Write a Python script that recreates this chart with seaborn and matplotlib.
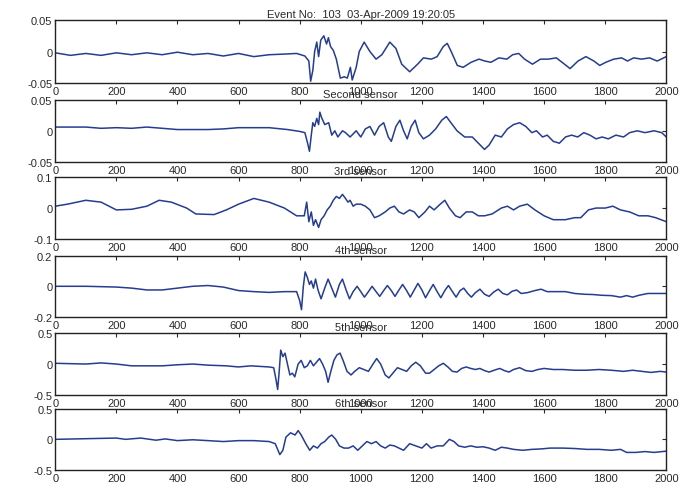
import matplotlib
matplotlib.use("Agg")
import matplotlib.pyplot as plt
import seaborn as sns
import pandas as pd

# ---------------- data ----------------
titles = ["Event No:  103  03-Apr-2009 19:20:05", "Second sensor", "3rd sensor",
          "4th sensor", "5th sensor", "6th sensor"]
ylims = [0.05, 0.05, 0.1, 0.2, 0.5, 0.5]
ytick_labels = [["-0.05", "0", "0.05"], ["-0.05", "0", "0.05"], ["-0.1", "0", "0.1"],
                ["-0.2", "0", "0.2"], ["-0.5", "0", "0.5"], ["-0.5", "0", "0.5"]]
xticks = list(range(0, 2001, 200))

s1_x = [0, 50, 100, 150, 200, 250, 300, 350, 400, 450, 500, 550, 600, 650, 700, 750, 790, 817, 830, 836,
        843, 849, 856, 862, 869, 879, 888, 894, 901, 910, 920, 933, 946, 956, 966, 972, 985, 995, 1011, 1030,
        1050, 1069, 1095, 1115, 1134, 1160, 1186, 1205, 1231, 1250, 1270, 1283, 1296, 1316, 1335, 1361, 1387,
        1406, 1426, 1452, 1478, 1497, 1517, 1536, 1562, 1588, 1614, 1640, 1672, 1685, 1711, 1737, 1763, 1782,
        1802, 1828, 1854, 1873, 1893, 1919, 1945, 1970, 2000]
s1_y = [-0.002, -0.006, -0.003, -0.006, -0.002, -0.005, -0.002, -0.005, -0.001, -0.005, -0.003, -0.007,
        -0.003, -0.008, -0.005, -0.004, -0.003, -0.007, -0.015, -0.047, -0.030, 0.000, 0.015, -0.008, 0.018,
        0.025, 0.012, 0.022, 0.008, 0.002, -0.012, -0.042, -0.040, -0.042, -0.025, -0.045, -0.025, 0.000,
        0.015, 0.000, -0.012, -0.005, 0.015, 0.005, -0.020, -0.032, -0.020, -0.010, -0.012, -0.008, 0.008,
        0.013, 0.000, -0.022, -0.025, -0.017, -0.012, -0.015, -0.017, -0.010, -0.012, -0.005, -0.003, -0.012,
        -0.020, -0.012, -0.012, -0.010, -0.022, -0.027, -0.015, -0.008, -0.015, -0.022, -0.017, -0.012,
        -0.010, -0.015, -0.010, -0.012, -0.010, -0.015, -0.008]

s2_x = [0, 100, 150, 200, 250, 300, 350, 400, 500, 550, 600, 700, 760, 800, 817, 826, 832, 838, 843, 849,
        856, 862, 866, 872, 882, 895, 905, 915, 925, 940, 950, 965, 985, 1000, 1015, 1030, 1045, 1060, 1075,
        1090, 1100, 1115, 1128, 1140, 1152, 1165, 1178, 1190, 1205, 1225, 1245, 1265, 1280, 1295, 1315, 1340,
        1365, 1385, 1405, 1420, 1440, 1460, 1480, 1500, 1520, 1540, 1560, 1575, 1595, 1610, 1630, 1650, 1670,
        1690, 1710, 1730, 1750, 1770, 1790, 1810, 1835, 1860, 1880, 1905, 1930, 1960, 1985, 2000]
s2_y = [0.006, 0.006, 0.004, 0.005, 0.004, 0.006, 0.004, 0.002, 0.002, 0.003, 0.005, 0.005, 0.002, -0.001,
        -0.003, -0.020, -0.033, -0.007, 0.013, 0.007, 0.020, 0.010, 0.030, 0.021, 0.010, 0.013, -0.007, 0.000,
        -0.010, 0.000, -0.003, -0.010, 0.000, -0.010, 0.003, 0.007, -0.007, 0.007, 0.013, -0.010, -0.017,
        0.007, 0.017, 0.000, -0.013, 0.007, 0.017, -0.003, -0.013, -0.007, 0.003, 0.017, 0.023, 0.013, 0.000,
        -0.010, -0.010, -0.020, -0.030, -0.023, -0.007, -0.010, 0.003, 0.010, 0.013, 0.007, -0.003, 0.000,
        -0.010, -0.007, -0.017, -0.020, -0.010, -0.007, -0.010, -0.003, -0.007, -0.013, -0.010, -0.013,
        -0.007, -0.010, -0.003, 0.000, -0.003, 0.000, -0.003, -0.010]

s3_x = [0, 40, 100, 150, 200, 250, 300, 340, 380, 430, 460, 520, 560, 600, 650, 700, 750, 790, 815, 823,
        830, 838, 845, 852, 862, 870, 880, 890, 900, 910, 920, 930, 940, 950, 958, 965, 975, 985, 1000, 1015,
        1030, 1045, 1060, 1080, 1095, 1110, 1125, 1140, 1160, 1175, 1190, 1210, 1225, 1240, 1260, 1275, 1290,
        1310, 1325, 1345, 1365, 1385, 1405, 1430, 1460, 1480, 1500, 1520, 1545, 1570, 1600, 1630, 1670, 1700,
        1720, 1745, 1770, 1800, 1825, 1850, 1880, 1910, 1940, 1965, 2000]
s3_y = [0.006, 0.0125, 0.025, 0.019, -0.006, -0.004, 0.006, 0.025, 0.019, 0.000, -0.019, -0.021, -0.006,
        0.0125, 0.031, 0.019, 0.000, -0.025, -0.025, 0.019, -0.044, -0.0125, -0.056, -0.0375, -0.0625,
        -0.0375, -0.025, -0.006, 0.006, 0.025, 0.0375, 0.031, 0.044, 0.031, 0.019, 0.025, 0.006, 0.0125,
        0.0125, 0.006, -0.006, -0.031, -0.025, -0.0125, 0.000, 0.006, -0.0125, -0.019, -0.006, -0.0125,
        -0.031, -0.0125, 0.006, -0.006, 0.0125, 0.025, 0.000, -0.025, -0.031, -0.0125, -0.0125, -0.025,
        -0.025, -0.019, 0.000, 0.006, -0.006, 0.006, 0.0125, -0.006, -0.025, -0.0375, -0.0375, -0.031,
        -0.031, -0.006, 0.000, 0.000, 0.006, -0.006, -0.0125, -0.025, -0.025, -0.031, -0.044]

s4_x = [0, 100, 200, 250, 300, 350, 400, 450, 500, 550, 600, 650, 700, 750, 790, 800, 806, 812, 818, 825,
        832, 838, 845, 852, 860, 870, 882, 893, 905, 917, 930, 940, 952, 963, 975, 988, 1000, 1012, 1025,
        1037, 1050, 1062, 1075, 1087, 1100, 1112, 1125, 1137, 1150, 1162, 1175, 1187, 1200, 1212, 1225, 1237,
        1250, 1262, 1275, 1287, 1300, 1312, 1325, 1337, 1350, 1362, 1375, 1390, 1405, 1420, 1435, 1450, 1465,
        1480, 1495, 1510, 1525, 1545, 1570, 1590, 1610, 1640, 1670, 1700, 1730, 1760, 1790, 1820, 1850, 1870,
        1890, 1910, 1940, 1970, 2000]
s4_y = [0.0, 0.0, -0.005, -0.012, -0.024, -0.024, -0.012, 0.0, 0.005, -0.005, -0.028, -0.035, -0.040,
        -0.035, -0.035, -0.094, -0.153, 0.0, 0.094, 0.059, 0.012, 0.035, -0.012, 0.047, -0.024, -0.082,
        -0.012, 0.047, -0.012, -0.071, 0.012, 0.047, -0.024, -0.082, -0.035, 0.0, -0.035, -0.071, -0.035,
        0.0, -0.035, -0.066, -0.028, 0.005, -0.028, -0.066, -0.024, 0.012, -0.028, -0.071, -0.024, 0.019,
        -0.024, -0.075, -0.028, 0.012, -0.035, -0.075, -0.028, 0.005, -0.035, -0.071, -0.028, -0.012, -0.047,
        -0.071, -0.042, -0.019, -0.052, -0.066, -0.038, -0.019, -0.047, -0.056, -0.033, -0.024, -0.047,
        -0.042, -0.028, -0.019, -0.035, -0.035, -0.035, -0.047, -0.052, -0.054, -0.059, -0.061, -0.071,
        -0.061, -0.071, -0.059, -0.047, -0.047, -0.047]

s5_x = [0, 100, 150, 200, 250, 350, 400, 450, 500, 560, 600, 640, 700, 715, 722, 728, 733, 738, 745, 752,
        760, 768, 776, 784, 795, 805, 815, 825, 835, 845, 855, 865, 875, 885, 893, 902, 912, 922, 932, 942,
        955, 968, 980, 995, 1010, 1025, 1040, 1052, 1065, 1080, 1092, 1105, 1120, 1135, 1150, 1165, 1180,
        1195, 1212, 1225, 1240, 1255, 1270, 1285, 1300, 1315, 1330, 1345, 1360, 1375, 1390, 1405, 1420, 1440,
        1455, 1470, 1485, 1500, 1520, 1540, 1560, 1580, 1600, 1630, 1660, 1700, 1740, 1780, 1820, 1860, 1890,
        1920, 1950, 1980, 2000]
s5_y = [0.012, 0.0, 0.018, 0.0, -0.029, -0.029, -0.012, 0.0, -0.018, -0.029, -0.047, -0.029, -0.047,
        -0.059, -0.235, -0.41, -0.118, 0.224, 0.118, 0.176, 0.0, -0.176, -0.147, -0.206, 0.0, 0.059, -0.059,
        -0.029, 0.059, -0.029, 0.029, 0.088, 0.0, -0.118, -0.294, -0.118, 0.059, 0.147, 0.176, 0.059,
        -0.118, -0.176, -0.118, -0.059, -0.088, -0.118, 0.0, 0.088, 0.0, -0.176, -0.224, -0.147, -0.059,
        -0.088, -0.118, -0.029, 0.029, -0.029, -0.147, -0.147, -0.088, -0.029, 0.012, -0.047, -0.118,
        -0.129, -0.071, -0.047, -0.071, -0.088, -0.071, -0.106, -0.129, -0.094, -0.071, -0.106, -0.129,
        -0.088, -0.059, -0.106, -0.118, -0.088, -0.071, -0.088, -0.088, -0.1, -0.1, -0.088, -0.1, -0.118,
        -0.1, -0.118, -0.135, -0.118, -0.129]

s6_x = [0, 200, 230, 280, 330, 360, 400, 450, 500, 550, 600, 650, 700, 720, 735, 745, 755, 770, 785, 795,
        805, 820, 833, 845, 858, 870, 882, 895, 905, 918, 930, 945, 960, 975, 990, 1005, 1020, 1035, 1050,
        1065, 1080, 1095, 1110, 1125, 1140, 1160, 1180, 1200, 1215, 1230, 1250, 1270, 1290, 1305, 1320, 1340,
        1360, 1380, 1400, 1420, 1440, 1460, 1480, 1500, 1530, 1560, 1590, 1620, 1660, 1700, 1740, 1780, 1820,
        1850, 1870, 1900, 1930, 1960, 2000]
s6_y = [0.0, 0.021, 0.0, 0.021, -0.014, 0.007, -0.021, -0.007, -0.021, -0.036, -0.021, -0.021, -0.036,
        -0.071, -0.25, -0.179, 0.036, 0.107, 0.071, 0.143, 0.071, -0.071, -0.179, -0.107, -0.143, -0.071,
        -0.036, 0.036, 0.071, 0.0, -0.107, -0.143, -0.143, -0.107, -0.179, -0.107, -0.036, -0.071, -0.036,
        -0.107, -0.143, -0.093, -0.107, -0.143, -0.179, -0.071, -0.107, -0.143, -0.071, -0.143, -0.107,
        -0.107, 0.0, -0.036, -0.107, -0.129, -0.107, -0.129, -0.121, -0.143, -0.179, -0.129, -0.143, -0.164,
        -0.179, -0.164, -0.157, -0.143, -0.143, -0.15, -0.164, -0.164, -0.179, -0.164, -0.214, -0.214, -0.2,
        -0.214, -0.193]

series_x = [s1_x, s2_x, s3_x, s4_x, s5_x, s6_x]
series_y = [s1_y, s2_y, s3_y, s4_y, s5_y, s6_y]

# ---------------- plotting ----------------
sns.set_theme(style="white")
plt.rcParams['font.family'] = ['Liberation Sans', 'DejaVu Sans']
plt.rcParams['xtick.direction'] = 'in'
plt.rcParams['ytick.direction'] = 'in'

fig = plt.figure(figsize=(6.82, 4.89), dpi=100)
fig.patch.set_facecolor('white')

# axes rectangles in figure fractions
rects = [(0.081, 0.828, 0.896, 0.129),
         (0.081, 0.667, 0.896, 0.127),
         (0.081, 0.509, 0.896, 0.127),
         (0.081, 0.350, 0.896, 0.125),
         (0.081, 0.190, 0.896, 0.127),
         (0.081, 0.037, 0.896, 0.125)]

line_color = '#263d8f'
text_color = '#2a2a2a'

for i in range(6):
    ax = fig.add_axes(rects[i])
    df = pd.DataFrame({"x": series_x[i], "y": series_y[i]})
    sns.lineplot(data=df, x="x", y="y", ax=ax, color=line_color, linewidth=1.1,
                 estimator=None, sort=False)
    lim = ylims[i]
    ax.set_xlim(0, 2000)
    ax.set_ylim(-lim, lim)
    ax.set_xticks(xticks)
    ax.set_xticklabels([str(t) for t in xticks], fontsize=8, color=text_color)
    ax.set_yticks([-lim, 0, lim])
    ax.set_yticklabels(ytick_labels[i], fontsize=8, color=text_color)
    ax.tick_params(axis='both', which='both', length=3, width=0.8, colors=text_color,
                   top=True, right=True, pad=2, labelcolor=text_color)
    ax.set_xlabel("")
    ax.set_ylabel("")
    for sp in ax.spines.values():
        sp.set_color('#222222')
        sp.set_linewidth(1.0)
    ax.set_title(titles[i], fontsize=8, color=text_color, pad=2)

fig.savefig("out.png", dpi=100, facecolor='white')
